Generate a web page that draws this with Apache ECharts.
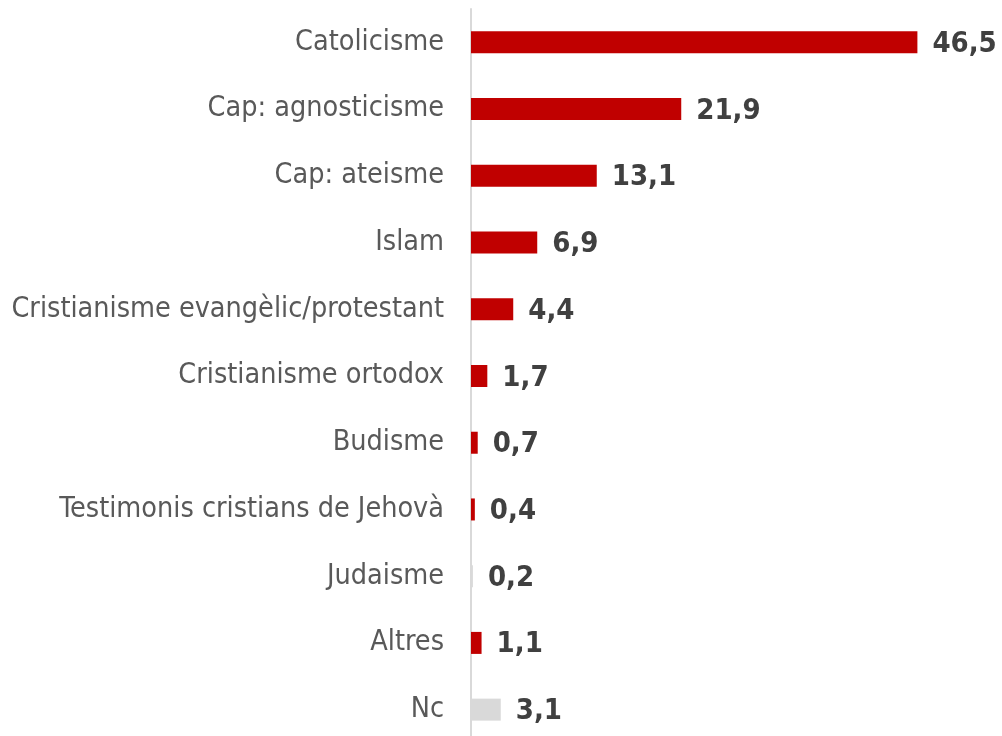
<!DOCTYPE html>
<html>
<head>
<meta charset="utf-8">
<script src="https://cdn.jsdelivr.net/npm/echarts@6/dist/echarts.min.js"></script>
<style>
  html, body { margin: 0; padding: 0; background: #ffffff; }
  #chart { width: 1002px; height: 736px; }
</style>
</head>
<body>
<div id="chart"></div>
<script>
// Religious affiliation, percentage of respondents
const categories = [
  'Catolicisme',
  'Cap: agnosticisme',
  'Cap: ateisme',
  'Islam',
  'Cristianisme evangèlic/protestant',
  'Cristianisme ortodox',
  'Budisme',
  'Testimonis cristians de Jehovà',
  'Judaisme',
  'Altres',
  'Nc'
];
const values = [46.5, 21.9, 13.1, 6.9, 4.4, 1.7, 0.7, 0.4, 0.2, 1.1, 3.1];
// categories drawn in the neutral colour
const neutralCategories = ['Judaisme', 'Nc'];

const RED = '#c00000';
const GREY = '#d9d9d9';
const FONT = '"DejaVu Sans Condensed", "DejaVu Sans", sans-serif';

const chart = echarts.init(document.getElementById('chart'), null, { renderer: 'canvas' });

chart.setOption({
  animation: false,
  backgroundColor: '#ffffff',
  grid: {
    left: 471,
    top: 9,
    width: 480,
    height: 734,
    outerBoundsMode: 'none'
  },
  xAxis: {
    type: 'value',
    min: 0,
    max: 50,
    show: false
  },
  yAxis: {
    type: 'category',
    inverse: true,
    data: categories,
    axisLine: { show: true, lineStyle: { color: GREY, width: 2 } },
    axisTick: { show: false },
    axisLabel: {
      color: '#595959',
      fontFamily: FONT,
      fontSize: 28.5,
      margin: 27
    },
    splitLine: { show: false }
  },
  series: [{
    type: 'bar',
    data: values,
    barWidth: 22,
    itemStyle: {
      color: p => neutralCategories.includes(categories[p.dataIndex]) ? GREY : RED
    },
    label: {
      show: true,
      position: 'right',
      distance: 15,
      offset: [0, 2],
      color: '#404040',
      fontFamily: FONT,
      fontWeight: 'bold',
      fontSize: 29,
      formatter: p => p.value.toFixed(1).replace('.', ',')
    }
  }]
});
</script>
</body>
</html>
